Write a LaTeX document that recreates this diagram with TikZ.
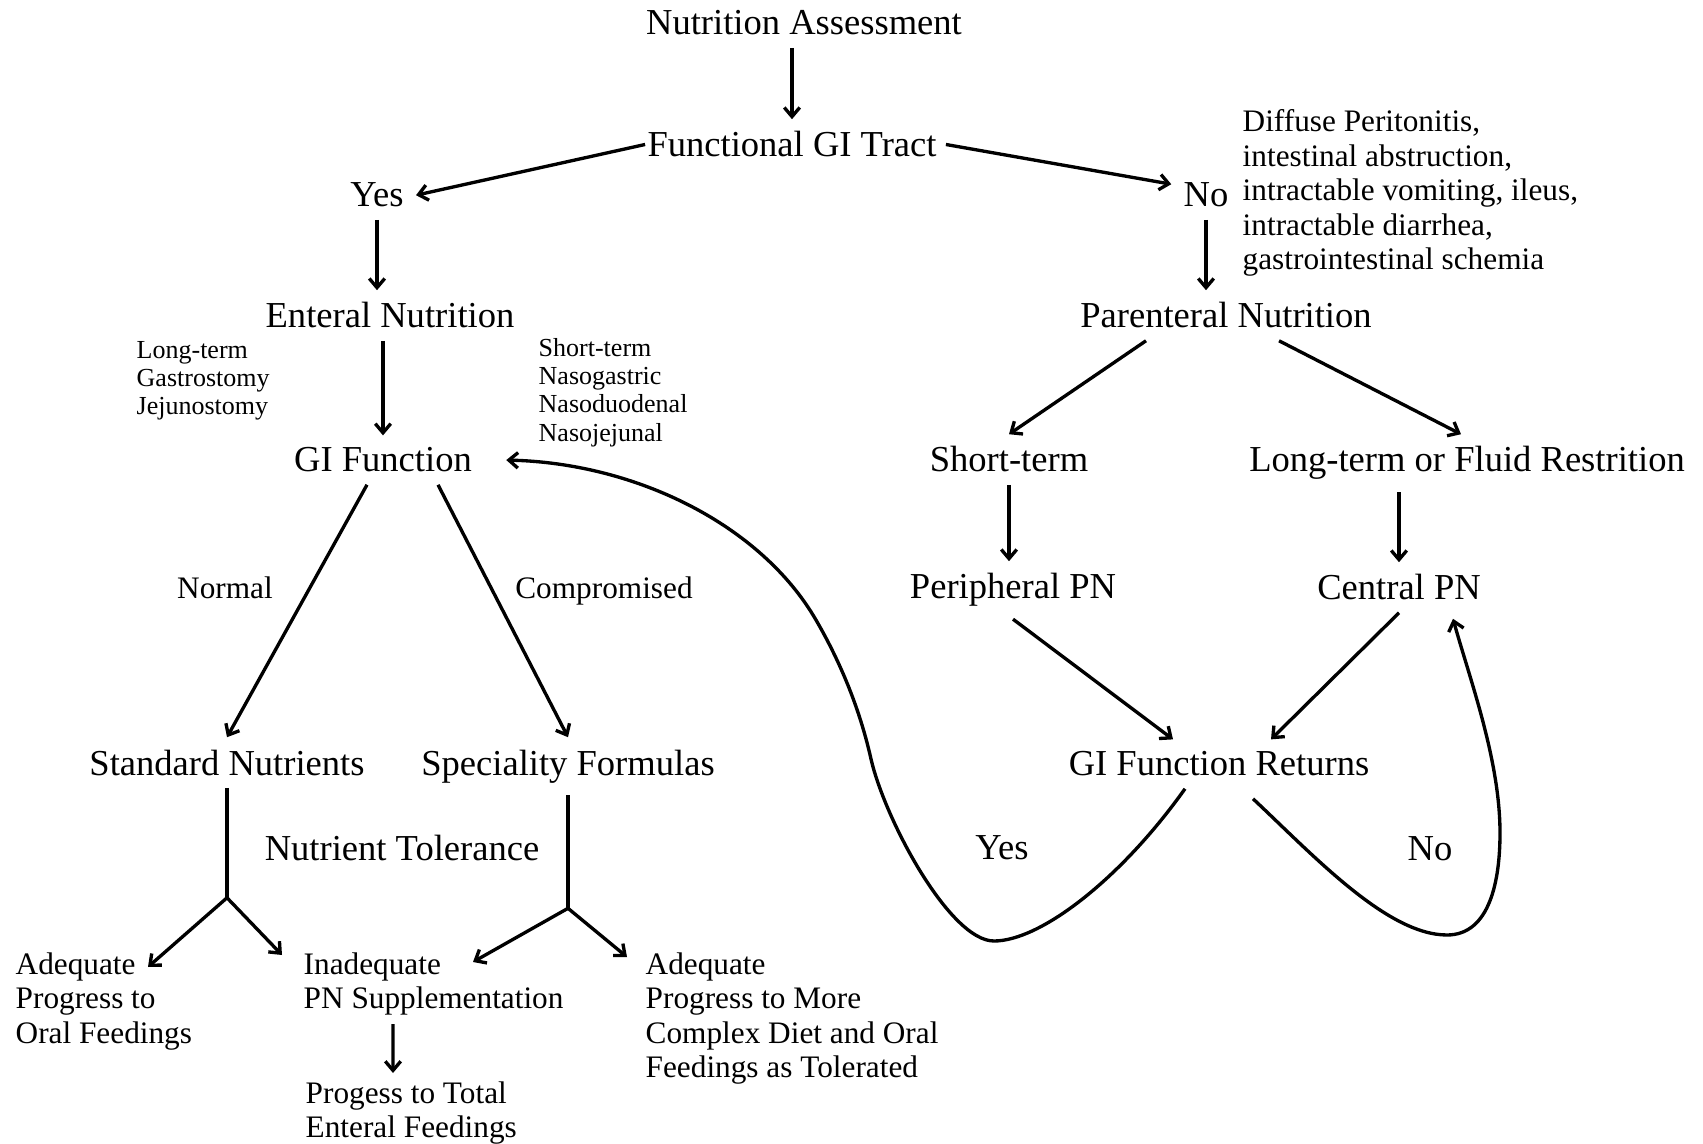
\documentclass[tikz,border=0pt]{standalone}
\usepackage{fontspec}
\setmainfont{Liberation Serif}
\usetikzlibrary{arrows.meta}

\tikzset{
  headtxt/.style={font=\fontsize{10.4}{12}\selectfont, anchor=base},
  labtxt/.style={font=\fontsize{8.9}{9.8}\selectfont, anchor=base},
  blocktxt/.style={font=\fontsize{8.9}{9.8}\selectfont, align=left, anchor=north west, inner sep=0pt},
  smalltxt/.style={font=\fontsize{7.4}{8}\selectfont, align=left, anchor=north west, inner sep=0pt},
  arr/.style={line width=0.95pt, -{Straight Barb[length=2.6pt,width=4.4pt]}},
  stem/.style={line width=0.9pt}
}

\begin{document}
\begin{tikzpicture}

    % white page with the size of the reference
    \useasboundingbox [fill=white] (0,0) rectangle (17.03,-11.44);

    % headings
    \node[headtxt] (na)  at (8.04,-0.35) {Nutrition Assessment};
    \node[headtxt] (fgi) at (7.92,-1.57) {Functional GI Tract};
    \node[headtxt] (yes) at (3.77,-2.07) {Yes};
    \node[headtxt] (no)  at (12.06,-2.07) {No};
    \node[headtxt] (en)  at (3.90,-3.28) {Enteral Nutrition};
    \node[headtxt] (pn)  at (12.26,-3.28) {Parenteral Nutrition};
    \node[headtxt] (gif) at (3.83,-4.72) {GI Function};
    \node[headtxt] (st)  at (10.09,-4.72) {Short-term};
    \node[headtxt] (lt)  at (14.67,-4.72) {Long-term or Fluid Restrition};
    \node[headtxt] (ppn) at (10.13,-5.99) {Peripheral PN};
    \node[headtxt] (cpn) at (13.99,-6.00) {Central PN};
    \node[headtxt] (sn)  at (2.27,-7.75) {Standard Nutrients};
    \node[headtxt] (sf)  at (5.68,-7.75) {Speciality Formulas};
    \node[headtxt] (gir) at (12.19,-7.76) {GI Function Returns};
    \node[headtxt] (nt)  at (4.02,-8.60) {Nutrient Tolerance};
    \node[headtxt] (ly)  at (10.02,-8.59) {Yes};
    \node[headtxt] (ln)  at (14.30,-8.60) {No};

    % branch labels
    \node[labtxt] (norm) at (2.25,-5.99) {Normal};
    \node[labtxt] (comp) at (6.04,-5.99) {Compromised};

    % side lists
    \node[smalltxt] (ltl) at (1.36,-3.41) {Long-term\\Gastrostomy\\Jejunostomy};
    \node[smalltxt] (stl) at (5.38,-3.38) {Short-term\\Nasogastric\\Nasoduodenal\\Nasojejunal};
    \node[blocktxt] (dif) at (12.42,-1.09) {Diffuse Peritonitis,\\intestinal abstruction,\\intractable vomiting, ileus,\\intractable diarrhea,\\gastrointestinal schemia};

    % outcomes
    \node[blocktxt] (ad1)  at (0.15,-9.52) {Adequate\\Progress to\\Oral Feedings};
    \node[blocktxt] (inad) at (3.03,-9.52) {Inadequate\\PN Supplementation};
    \node[blocktxt] (prog) at (3.05,-10.81) {Progess to Total\\Enteral Feedings};
    \node[blocktxt] (ad2)  at (6.45,-9.52) {Adequate\\Progress to More\\Complex Diet and Oral\\Feedings as Tolerated};

    % straight arrows
    \draw[arr] (fgi.north |- na.south) -- (fgi.north);
    \draw[arr] ([xshift=0.1cm]fgi.west) -- (yes.east);
    \draw[arr] ([xshift=-0.03cm]fgi.east) -- ([yshift=0.11cm]no.west);
    \draw[arr] (yes.south) -- (yes.south |- en.north);
    \draw[arr] (no.south) -- (no.south |- pn.north);
    \draw[arr] (gif.north |- en.south) -- (gif.north);
    \draw[arr] ([xshift=-0.80cm]pn.south) -- (st.north);
    \draw[arr] ([xshift=0.53cm]pn.south) -- ([xshift=-0.06cm]lt.north);
    \draw[arr] (st.south) -- (st.south |- ppn.north);
    \draw[arr] (cpn.north |- lt.south) -- (cpn.north);
    \draw[arr] (ppn.south) -- ([xshift=-0.46cm]gir.north);
    \draw[arr] (cpn.south) -- ([xshift=0.52cm]gir.north);
    \draw[arr] ([xshift=-0.16cm]gif.south) -- (sn.north);
    \draw[arr] ([xshift=0.55cm]gif.south) -- (sf.north);

    % nutrient tolerance splits
    \coordinate (sj) at ([yshift=-1.10cm]sn.south);
    \coordinate (fj) at ([yshift=-1.13cm]sf.south);
    \draw[stem] (sn.south) -- (sj);
    \draw[stem] (sf.south) -- (fj);
    \draw[arr] (sj) -- ([shift={(1.33,-0.15)}]ad1.north west);
    \draw[arr] (sj) -- ([shift={(-0.21,-0.03)}]inad.north west);
    \draw[arr] (fj) -- ([shift={(1.70,-0.10)}]inad.north west);
    \draw[arr] (fj) -- ([shift={(-0.18,-0.05)}]ad2.north west);
    \draw[arr] ([shift={(0.90,-0.08)}]inad.south west) -- ([shift={(0.88,0.08)}]prog.north west);

    % return loops
    \draw[arr] ([xshift=-0.34cm]gir.south) .. controls (11.20,-8.80) and (10.40,-9.41) .. (9.94,-9.41)
        .. controls (9.50,-9.41) and (8.85,-8.20) .. (8.71,-7.59)
        .. controls (8.60,-7.10) and (8.41,-6.63) .. (8.16,-6.20)
        .. controls (7.61,-5.25) and (6.36,-4.63) .. ([xshift=0.22cm]gif.east);
    \draw[arr] ([xshift=0.34cm,yshift=-0.1cm]gir.south) .. controls (13.13,-8.55) and (13.87,-9.35) .. (14.47,-9.35)
        .. controls (14.90,-9.35) and (15.00,-8.80) .. (15.00,-8.33)
        .. controls (15.00,-7.60) and (14.70,-6.80) .. ([xshift=0.54cm,yshift=-0.06cm]cpn.south);

\end{tikzpicture}
\end{document}
